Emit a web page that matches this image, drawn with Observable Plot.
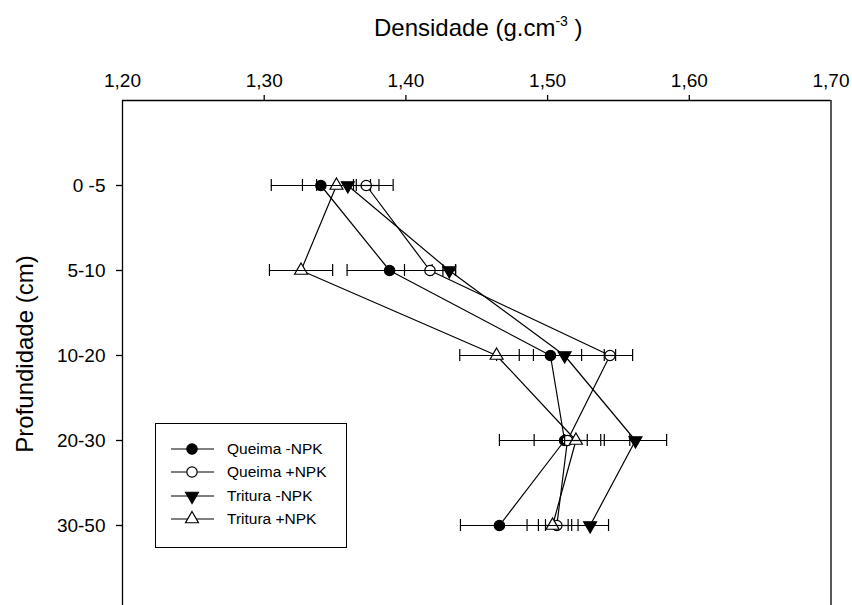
<!DOCTYPE html>
<html><head><meta charset="utf-8">
<script src="https://cdn.jsdelivr.net/npm/d3@7"></script>
<script src="https://cdn.jsdelivr.net/npm/@observablehq/plot@0.6"></script>
<style>
body{margin:0;background:#fff;font-family:"Liberation Sans",Arial,sans-serif;color:#000;}
#wrap{position:relative;width:852px;height:605px;overflow:hidden;}
#title{height:50px;position:relative;}
#title span{position:absolute;left:374px;top:16px;font-size:24px;line-height:1;white-space:nowrap;}
#title sup{font-size:14px;vertical-align:10px;line-height:0;}
#ytitle{position:absolute;left:25px;top:354px;transform:translate(-50%,-50%) rotate(-90deg);font-size:24px;line-height:1;white-space:nowrap;}
#legend{position:absolute;left:155px;top:423px;width:192px;height:125px;border:1px solid #000;box-sizing:border-box;background:#fff;}
.lrow{position:absolute;left:0;height:20px;width:190px;}
.lrow svg{position:absolute;left:14px;top:0;}
.lrow span{position:absolute;left:71px;top:0;line-height:20px;font-size:15.5px;white-space:nowrap;}
</style></head>
<body>
<div id="wrap">
<div id="title"><span>Densidade (g.cm<sup>-3</sup> )</span></div>
<div id="chart"></div>
<div id="ytitle"></div>
<div id="legend"></div>
</div>
<script>
const categories = ["0 -5", "5-10", "10-20", "20-30", "30-50"];
const series = ["Queima -NPK", "Queima +NPK", "Tritura -NPK", "Tritura +NPK"];
const queimaMinus    = [1.340, 1.3885, 1.502, 1.512, 1.466];
const queimaMinusErr = [0.035, 0.030, 0.022, 0.046, 0.0275];
const queimaPlus     = [1.372, 1.417, 1.544, 1.514, 1.5065];
const queimaPlusErr  = [0.009, 0.018, 0.004, 0.0235, 0.008];
const trituraMinus    = [1.359, 1.4306, 1.512, 1.562, 1.530];
const trituraMinusErr = [0.032, 0.0045, 0.048, 0.022, 0.013];
const trituraPlus     = [1.351, 1.326, 1.464, 1.520, 1.5035];
const trituraPlusErr  = [0.014, 0.0223, 0.026, 0.008, 0.018];
const xTicks = [1.20, 1.30, 1.40, 1.50, 1.60, 1.70];
const yTitle = "Profundidade (cm)";
document.getElementById("ytitle").textContent = yTitle;

const values = [queimaMinus, queimaPlus, trituraMinus, trituraPlus];
const errors = [queimaMinusErr, queimaPlusErr, trituraMinusErr, trituraPlusErr];
const styles = [
  {symbol: "circle", fill: "black", rotate: 0, r: 5.2},
  {symbol: "circle", fill: "white", rotate: 0, r: 5.2},
  {symbol: "triangle", fill: "black", rotate: 180, r: 4.8},
  {symbol: "triangle", fill: "white", rotate: 0, r: 4.8}
];
const rows = series.flatMap((s, si) => categories.map((c, i) => ({
  series: s, si, pos: i + 1, v: values[si][i], e: errors[si][i]
})));
const fmt = d => d.toFixed(2).replace(".", ",");
const sw = 1.2;

const marks = [
  Plot.ruleX([xTicks[0], xTicks[xTicks.length - 1]], {y1: 0, y2: categories.length + 1, stroke: "black", strokeWidth: 1.3}),
  Plot.ruleY([0], {x1: xTicks[0], x2: xTicks[xTicks.length - 1], stroke: "black", strokeWidth: 1.3}),
  Plot.axisX({anchor: "top", ticks: xTicks.slice(1, -1), tickSize: 6, tickFormat: () => "", label: null, strokeWidth: 1.3}),
  Plot.axisX({anchor: "top", ticks: xTicks, tickSize: 0, tickPadding: 14, tickFormat: fmt, label: null, fontSize: 19}),
  Plot.axisY({anchor: "left", ticks: categories.map((c, i) => i + 1), tickSize: 6, tickPadding: 11,
    tickFormat: i => categories[i - 1], label: null, fontSize: 19, strokeWidth: 1.3}),
  Plot.line(rows, {x: "v", y: "pos", z: "series", stroke: "black", strokeWidth: sw})
];
series.forEach((s, si) => {
  const data = rows.filter(d => d.si === si);
  const st = styles[si];
  marks.push(
    Plot.dot(data, {x: "v", y: "pos", symbol: () => st.symbol, r: st.r, fill: st.fill, stroke: "black", strokeWidth: sw, rotate: st.rotate}),
    Plot.ruleY(data, {y: "pos", x1: d => d.v - d.e, x2: d => d.v + d.e, stroke: "black", strokeWidth: sw}),
    Plot.ruleX(data, {x: d => d.v - d.e, y1: "pos", y2: "pos", insetTop: -6, insetBottom: -6, stroke: "black", strokeWidth: sw}),
    Plot.ruleX(data, {x: d => d.v + d.e, y1: "pos", y2: "pos", insetTop: -6, insetBottom: -6, stroke: "black", strokeWidth: sw})
  );
});

const chart = Plot.plot({
  width: 852, height: 555,
  marginTop: 50, marginLeft: 122, marginRight: 21, marginBottom: 0,
  x: {domain: [xTicks[0], xTicks[xTicks.length - 1]], range: [122, 830.5]},
  y: {domain: [0, categories.length + 1], range: [50, 560]},
  symbol: {type: "identity"},
  style: {fontFamily: "'Liberation Sans', Arial, sans-serif", fontSize: "19px", color: "black", background: "white", overflow: "visible"},
  marks
});
document.getElementById("chart").appendChild(chart);

// legend
const legend = d3.select("#legend");
const rowY = [24.5, 48, 71.5, 95];
series.forEach((s, si) => {
  const st = styles[si];
  const row = legend.append("div").attr("class", "lrow").style("top", (rowY[si] - 10) + "px");
  const svg = row.append("svg").attr("width", 48).attr("height", 20);
  svg.append("line").attr("x1", 1).attr("x2", 44).attr("y1", 10).attr("y2", 10).attr("stroke", "black").attr("stroke-width", sw);
  const sym = st.symbol === "circle" ? d3.symbolCircle : d3.symbolTriangle;
  svg.append("path").attr("d", d3.symbol(sym, st.r * st.r * Math.PI)())
    .attr("transform", `translate(22,10) rotate(${st.rotate})`)
    .attr("fill", st.fill).attr("stroke", "black").attr("stroke-width", sw);
  row.append("span").text(s);
});
</script>
</body></html>
